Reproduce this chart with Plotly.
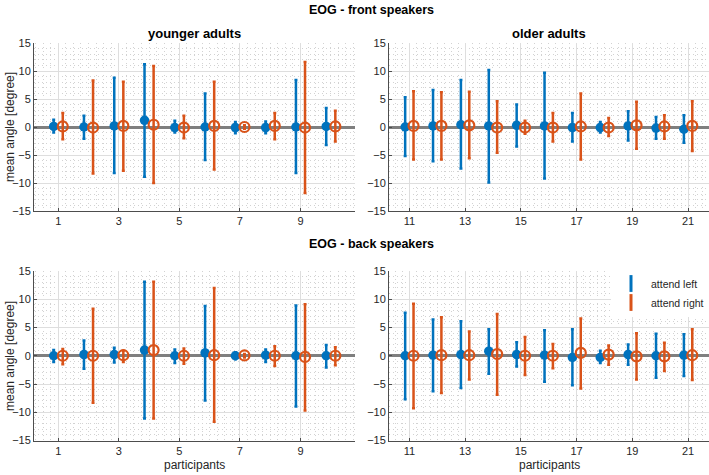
import plotly.graph_objects as go

# ---------------- data ----------------
young_ids = list(range(1, 11))
old_ids = list(range(11, 22))

# EOG - front speakers, younger adults
front_young_left_mean = [0.1, 0.0, 0.2, 1.2, -0.1, 0.0, -0.1, -0.1, 0.0, 0.1]
front_young_left_top = [1.3, 2.0, 8.8, 11.2, 1.1, 6.0, 0.9, 1.0, 8.4, 3.4]
front_young_left_bot = [-1.0, -2.1, -8.2, -8.9, -1.0, -5.9, -1.1, -1.1, -8.2, -3.2]
front_young_right_mean = [0.1, -0.1, 0.2, 0.4, -0.1, 0.2, 0.0, 0.2, -0.1, 0.1]
front_young_right_top = [2.5, 8.3, 8.1, 10.9, 2.0, 8.1, 0.3, 2.5, 11.6, 2.9]
front_young_right_bot = [-2.2, -8.3, -7.8, -10.0, -2.0, -7.6, -0.3, -2.2, -11.8, -2.6]

# EOG - front speakers, older adults
front_old_left_mean = [0.0, 0.2, 0.4, 0.2, 0.3, 0.2, -0.1, -0.1, 0.2, -0.2, -0.4]
front_old_left_top = [5.3, 6.6, 8.4, 10.2, 4.0, 9.7, 2.5, 0.9, 2.8, 1.8, 2.1]
front_old_left_bot = [-5.2, -6.1, -7.4, -9.9, -3.5, -9.2, -2.6, -1.0, -2.4, -2.1, -2.8]
front_old_right_mean = [0.2, 0.2, 0.3, -0.1, -0.1, -0.1, 0.1, -0.1, 0.3, 0.1, 0.2]
front_old_right_top = [6.4, 6.2, 6.3, 4.6, 1.1, 2.5, 6.0, 1.6, 4.5, 2.1, 4.6]
front_old_right_bot = [-5.8, -5.8, -5.6, -4.6, -1.2, -2.6, -5.8, -1.6, -3.9, -2.1, -4.3]

# EOG - back speakers, younger adults
back_young_left_mean = [0.0, 0.2, 0.2, 1.0, 0.0, 0.5, 0.0, 0.1, 0.0, 0.0]
back_young_left_top = [1.0, 2.7, 1.4, 13.1, 1.1, 8.8, 0.6, 1.1, 8.9, 1.9]
back_young_left_bot = [-1.1, -2.3, -1.2, -11.1, -1.3, -7.9, -0.6, -1.1, -9.0, -2.1]
back_young_right_mean = [0.0, 0.0, 0.1, 1.0, 0.0, 0.1, 0.05, 0.0, -0.2, 0.0]
back_young_right_top = [1.2, 8.3, 0.9, 13.1, 1.3, 12.0, 0.3, 1.7, 9.1, 1.5]
back_young_right_bot = [-1.5, -8.3, -1.1, -11.1, -1.4, -11.7, -0.3, -1.8, -9.7, -1.7]

# EOG - back speakers, older adults
back_old_left_mean = [0.0, 0.1, 0.2, 0.8, 0.2, 0.1, -0.3, -0.3, 0.2, 0.0, 0.1]
back_old_left_top = [7.6, 6.4, 6.1, 4.7, 2.4, 4.5, 4.7, 0.9, 2.0, 3.9, 3.8]
back_old_left_bot = [-7.7, -6.3, -5.7, -3.2, -1.9, -4.6, -5.2, -1.3, -1.6, -3.9, -3.6]
back_old_right_mean = [0.0, 0.1, 0.1, 0.3, 0.0, 0.0, 0.5, 0.2, -0.1, -0.1, 0.1]
back_old_right_top = [9.2, 6.8, 4.3, 7.4, 3.3, 2.1, 6.6, 1.8, 4.0, 2.3, 4.7]
back_old_right_bot = [-9.3, -6.6, -4.2, -6.9, -3.4, -2.2, -5.8, -1.6, -4.2, -2.7, -4.3]

y_tick_vals = [-15, -10, -5, 0, 5, 10, 15]
young_tick_vals = [1, 3, 5, 7, 9]
old_tick_vals = [11, 13, 15, 17, 19, 21]

series_names = ["attend left", "attend right"]
offset = 0.15

# ---------------- style ----------------
BLUE = "#0072BD"
ORANGE = "#D95319"
FONT = "Liberation Sans, Arial, sans-serif"
W, H = 709, 475


def px_x(p):
    return p / W


def px_y(p):
    return 1 - p / H


fig = go.Figure()


def add_panel(idx, ids, lm, lt, lb, rm, rt, rb):
    xa = "x" if idx == 1 else f"x{idx}"
    ya = "y" if idx == 1 else f"y{idx}"
    xl = [i - offset for i in ids]
    xr = [i + offset for i in ids]
    fig.add_trace(go.Scatter(
        x=xl, y=lm, mode="markers", xaxis=xa, yaxis=ya, showlegend=False,
        marker=dict(symbol="circle", size=9.5, color=BLUE),
        error_y=dict(type="data", symmetric=False,
                     array=[t - m for t, m in zip(lt, lm)],
                     arrayminus=[m - b for m, b in zip(lm, lb)],
                     color=BLUE, thickness=2.5, width=1.5),
        name=series_names[0], cliponaxis=False))
    fig.add_trace(go.Scatter(
        x=xr, y=rm, mode="markers", xaxis=xa, yaxis=ya, showlegend=False,
        marker=dict(symbol="circle-open", size=10, color=ORANGE, line=dict(width=2.2, color=ORANGE)),
        error_y=dict(type="data", symmetric=False,
                     array=[t - m for t, m in zip(rt, rm)],
                     arrayminus=[m - b for m, b in zip(rm, rb)],
                     color=ORANGE, thickness=2.5, width=1.5),
        name=series_names[1], cliponaxis=False))


add_panel(1, young_ids, front_young_left_mean, front_young_left_top, front_young_left_bot,
          front_young_right_mean, front_young_right_top, front_young_right_bot)
add_panel(2, old_ids, front_old_left_mean, front_old_left_top, front_old_left_bot,
          front_old_right_mean, front_old_right_top, front_old_right_bot)
add_panel(3, young_ids, back_young_left_mean, back_young_left_top, back_young_left_bot,
          back_young_right_mean, back_young_right_top, back_young_right_bot)
add_panel(4, old_ids, back_old_left_mean, back_old_left_top, back_old_left_bot,
          back_old_right_mean, back_old_right_top, back_old_right_bot)

# legend-only traces
fig.add_trace(go.Scatter(x=[None], y=[None], mode="markers", name=series_names[0],
                         xaxis="x4", yaxis="y4",
                         marker=dict(symbol="line-ns-open", size=12, color=BLUE,
                                     line=dict(width=3, color=BLUE))))
fig.add_trace(go.Scatter(x=[None], y=[None], mode="markers", name=series_names[1],
                         xaxis="x4", yaxis="y4",
                         marker=dict(symbol="line-ns-open", size=12, color=ORANGE,
                                     line=dict(width=3, color=ORANGE))))

AX_COLOR = "#4d4d4d"
TICK_FONT = dict(family=FONT, size=11, color="#262626")
MINOR_GRID = dict(showgrid=True, gridcolor="#d2d2d2", griddash="1px,3px", gridwidth=1, ticks="")


def xaxis(domain, rng, tickvals, anchor):
    return dict(domain=domain, range=rng, anchor=anchor, tickvals=tickvals,
                showline=True, linecolor=AX_COLOR, linewidth=1,
                ticks="inside", ticklen=3, tickcolor=AX_COLOR,
                showgrid=True, gridcolor="#dedede", gridwidth=1,
                zeroline=False, tickfont=TICK_FONT, fixedrange=True,
                minor=dict(tick0=1, dtick=0.25, **MINOR_GRID))


def yaxis(domain, anchor):
    return dict(domain=domain, range=[-15, 15], anchor=anchor, tickvals=y_tick_vals,
                showline=True, linecolor=AX_COLOR, linewidth=1,
                ticks="inside", ticklen=3, tickcolor=AX_COLOR,
                showgrid=True, gridcolor="#dedede", gridwidth=1,
                zeroline=True, zerolinecolor="#7f7f7f", zerolinewidth=2.5,
                tickfont=TICK_FONT, fixedrange=True,
                minor=dict(tick0=0, dtick=1, **MINOR_GRID))


left_dom = [px_x(34), px_x(355)]
right_dom = [px_x(389), 1.0]
top_dom = [px_y(211), px_y(43)]
bot_dom = [px_y(440.5), px_y(271)]

fig.update_layout(
    width=W, height=H,
    margin=dict(l=0, r=0, t=0, b=0, autoexpand=False),
    paper_bgcolor="white", plot_bgcolor="white",
    font=dict(family=FONT, size=11, color="#262626"),
    xaxis=xaxis(left_dom, [0.2, 10.8], young_tick_vals, "y"),
    yaxis=yaxis(top_dom, "x"),
    xaxis2=xaxis(right_dom, [10.27, 21.75], old_tick_vals, "y2"),
    yaxis2=yaxis(top_dom, "x2"),
    xaxis3=xaxis(left_dom, [0.2, 10.8], young_tick_vals, "y3"),
    yaxis3=yaxis(bot_dom, "x3"),
    xaxis4=xaxis(right_dom, [10.27, 21.75], old_tick_vals, "y4"),
    yaxis4=yaxis(bot_dom, "x4"),
    showlegend=True,
    legend=dict(x=px_x(611), y=px_y(269), xanchor="left", yanchor="top",
                bgcolor="white", borderwidth=0,
                font=dict(family=FONT, size=10.5, color="#262626"),
                itemwidth=30, tracegroupgap=0),
)

ann = []


def text(x, y, s, size=12, bold=False, angle=0):
    ann.append(dict(x=px_x(x), y=px_y(y), xref="paper", yref="paper", text=f"<b>{s}</b>" if bold else s,
                    showarrow=False, textangle=angle, xanchor="center", yanchor="middle",
                    font=dict(family=FONT, size=size, color="#000000" if bold else "#262626")))


text(371, 10, "EOG - front speakers", 12.5, True)
text(194, 33, "younger adults", 13, True)
text(549, 33, "older adults", 13, True)
text(371, 244, "EOG - back speakers", 12.5, True)
text(10, 127, "mean angle [degree]", 12, angle=-90)
text(10, 356, "mean angle [degree]", 12, angle=-90)
text(194, 465, "participants", 12)
text(549, 465, "participants", 12)
fig.update_layout(annotations=ann)

fig.write_html(
    "out.html",
    config={"displayModeBar": False},
    post_script="document.body.style.margin='0';document.body.style.padding='0';",
)
